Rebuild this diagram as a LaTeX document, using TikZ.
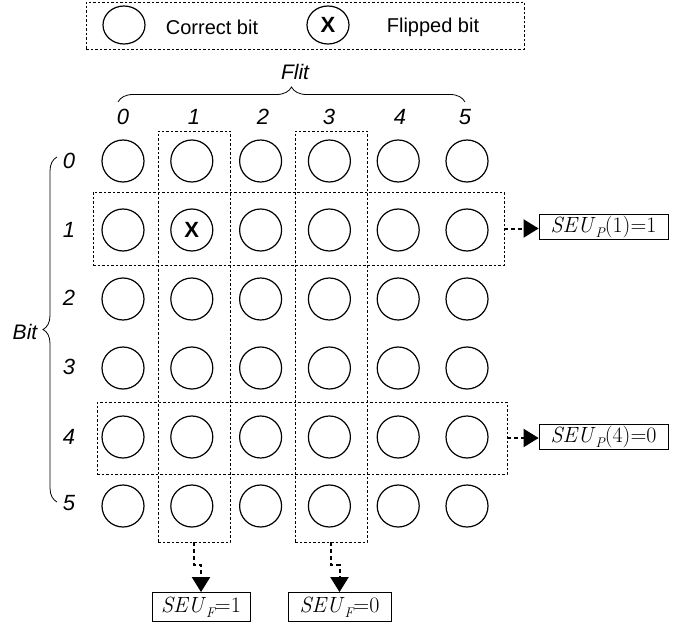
\documentclass[tikz,border=0pt]{standalone}
\usepackage{fontspec}
\setsansfont{Liberation Sans}
\usetikzlibrary{decorations.pathreplacing,arrows.meta,shapes.geometric}
\newcommand{\seusub}[1]{\raisebox{-5pt}{\fontsize{14}{14}\selectfont\itshape #1}}
\begin{document}
\begin{tikzpicture}[x=1pt,y=-1pt,
  bitc/.style={circle,draw,line width=1.2pt,minimum size=42pt,inner sep=0pt,font=\fontsize{22}{24}\selectfont\sffamily\bfseries},
  legc/.style={ellipse,draw,line width=1.2pt,minimum width=42pt,minimum height=38pt,inner sep=0pt,font=\fontsize{22}{24}\selectfont\sffamily\bfseries},
  grp/.style={draw,dash pattern=on 2.5pt off 2pt,line width=0.8pt,inner sep=0pt},
  lbl/.style={font=\fontsize{21}{23}\selectfont\sffamily\itshape,inner sep=0pt},
  num/.style={font=\fontsize{22}{24}\selectfont\sffamily\itshape,inner sep=0pt},
  legt/.style={font=\fontsize{20}{22}\selectfont\sffamily,inner sep=0pt},
  seu/.style={draw,line width=0.8pt,inner sep=1pt,font=\fontsize{22}{24}\selectfont},
  arr/.style={line width=2pt,dash pattern=on 4pt off 3pt,-{Triangle[length=15pt,width=18pt]}},
  brc/.style={decorate,line width=0.8pt}
]
\useasboundingbox (0,0) rectangle (692,628);
% legend
\node[grp,minimum width=438pt,minimum height=47pt] (leg) at (305,25.5) {};
\node[legc] (lc) at (124,25) {};
\node[legt] (lct) at (212,27) {Correct bit};
\node[legc] (lf) at (328,25) {X};
\node[legt] (lft) at (433,27) {Flipped bit};
% group boxes
\node[grp,minimum width=72pt,minimum height=411pt] (c1) at (194,336.5) {};
\node[grp,minimum width=72pt,minimum height=411pt] (c3) at (331,336.5) {};
\node[grp,minimum width=411pt,minimum height=73pt] (r1) at (298.5,228.5) {};
\node[grp,minimum width=410pt,minimum height=72pt] (r4) at (302,438) {};
% grid
\foreach \c in {0,...,5}{
  \foreach \r in {0,...,5}{
    \node[bitc] (b\c\r) at ({123+68.8*\c},{161+69*\r}) {\ifnum\c=1 \ifnum\r=1 X\fi\fi};
  }
}
% column labels
\node[lbl] (fl) at (295,72) {Flit};
\draw[brc,decoration={brace,amplitude=15pt}] (118,102) -- (465,102);
\foreach \c/\x in {0/123,1/194,2/263,3/329,4/400,5/465}{
  \node[num] (cl\c) at (\x,117) {\c};
}
% row labels
\node[lbl] (bl) at (25,332) {Bit};
\draw[brc,decoration={brace,amplitude=14pt}] (57,502) -- (57,157);
\foreach \r/\y in {0/161,1/230,2/298,3/367,4/437,5/503}{
  \node[num] (rl\r) at (69,\y) {\r};
}
% result boxes
\node[seu,minimum width=129pt,minimum height=25pt] (p1) at (603.5,227) {\textit{SEU}\seusub{P}(1)=1};
\node[seu,minimum width=129pt,minimum height=25pt] (p4) at (603.5,437) {\textit{SEU}\seusub{P}(4)=0};
\node[seu,minimum width=98pt,minimum height=29pt] (f1) at (201,607) {\textit{SEU}\seusub{F}=1};
\node[seu,minimum width=103pt,minimum height=29pt] (f0) at (339.5,607) {\textit{SEU}\seusub{F}=0};
% arrows
\draw[arr] (r1.east) -- (r1.east -| p1.west);
\draw[arr] (r4.east) -- (r4.east -| p4.west);
\draw[arr] (c1.south) -- ++(0,23) -| (f1.north);
\draw[arr] (c3.south) -- ++(0,23) -| (f0.north);
\end{tikzpicture}
\end{document}
